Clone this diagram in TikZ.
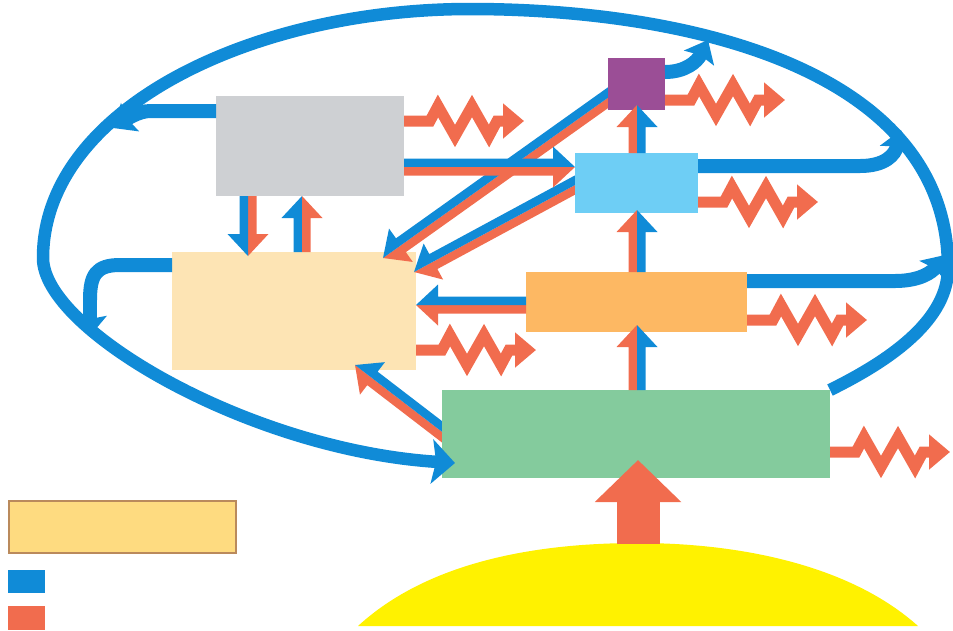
\documentclass[tikz,border=0pt]{standalone}
\usetikzlibrary{arrows.meta,calc,fit,backgrounds}

\definecolor{flowblue}{RGB}{16,139,215}
\definecolor{heatred}{RGB}{241,108,78}
\definecolor{greybox}{RGB}{206,208,211}
\definecolor{purplebox}{RGB}{155,78,150}
\definecolor{skybox}{RGB}{110,206,245}
\definecolor{beigebox}{RGB}{253,228,180}
\definecolor{orangebox}{RGB}{253,184,99}
\definecolor{greenbox}{RGB}{132,203,157}
\definecolor{legendfill}{RGB}{254,219,128}
\definecolor{legendline}{RGB}{186,138,92}
\definecolor{sunyellow}{RGB}{255,242,0}

\tikzset{
  box/.style={rectangle, inner sep=0pt, outer sep=0pt},
  blueflow/.style={draw=flowblue, line width=0.28cm,
    -{Stealth[length=0.4cm,width=0.66cm,inset=0.06cm]}},
  cycleflow/.style={draw=flowblue, line width=0.25cm,
    -{Stealth[length=0.46cm,width=0.88cm,inset=0.08cm]}},
  heatflow/.style={draw=heatred, line width=0.22cm, line join=miter,
    -{Triangle[length=0.42cm,width=0.68cm]}},
}

% heat loss: zigzag arrow starting at #1
\newcommand{\heatloss}[1]{%
  \draw[heatflow] (#1) -- ++(26,0) -- ++(8,-15) -- ++(17,30) -- ++(17,-30)
    -- ++(17,30) -- ++(8,-15) -- ++(27,0);}

% twin arrow from #1 to #2: colour #3 on its left side, colour #4 on its right side
\newcommand{\twinarrow}[4]{%
  \coordinate (tw-a) at (#1);
  \coordinate (tw-b) at (#2);
  \coordinate (tw-c) at ($(tw-b)!0.44cm!(tw-a)$);
  \fill[#3] (tw-a) -- ($(tw-a)!0.17cm!90:(tw-b)$) -- ($(tw-c)!0.17cm!90:(tw-b)$)
    -- ($(tw-c)!0.41cm!90:(tw-b)$) -- (tw-b) -- cycle;
  \fill[#4] (tw-a) -- ($(tw-a)!0.17cm!-90:(tw-b)$) -- ($(tw-c)!0.17cm!-90:(tw-b)$)
    -- ($(tw-c)!0.41cm!-90:(tw-b)$) -- (tw-b) -- cycle;}

\begin{document}
\begin{tikzpicture}[x=0.02cm, y=-0.02cm]

  % Fix the page size
  \useasboundingbox (0,0) rectangle (953,630);

  % Decomposers sit below the arrows that come into them
  \begin{scope}[on background layer]
    \node[box, fill=beigebox, fit={(172,252)(416,370)}] (decomposers) {};
  \end{scope}

  % The other compartments
  \node[box, fill=greybox, fit={(216,96)(404,196)}] (detritus) {};
  \node[box, fill=purplebox, fit={(608,58)(665,110)}] (tertiary) {};
  \node[box, fill=skybox, fit={(575,153)(698,213)}] (secondary) {};
  \node[box, fill=orangebox, fit={(526,272)(747,332)}] (primary) {};
  \node[box, fill=greenbox, fit={(442,390)(830,478)}] (producers) {};

  % Diagonal twin arrows into the decomposers (under their source boxes)
  \begin{scope}[on background layer]
    \twinarrow{$(tertiary.south west)+(15,-23)$}{$(decomposers.north east)+(-33,6)$}{heatred}{flowblue}
    \twinarrow{$(secondary.south west)+(13,-35)$}{$(decomposers.north east)+(-2,20)$}{heatred}{flowblue}
    \twinarrow{$(producers.north west)+(12,51)$}{$(decomposers.south east)+(-61,-5)$}{heatred}{flowblue}
  \end{scope}

  % The big recycling loop back to the producers
  \draw[cycleflow] (producers.north east) .. controls (895,358) and (948,318) .. (948,268)
    .. controls (948,70) and (690,9) .. (470,9)
    .. controls (250,9) and (43,110) .. (43,258)
    .. controls (43,330) and (250,450) .. ($(producers.west |- 0,463)+(13,0)$);

  % The sun and its energy input
  \fill[sunyellow] (358,626) .. controls (430,560) and (540,543) .. (638,543)
    .. controls (740,543) and (850,565) .. (918,626) -- cycle;
  \coordinate (sun) at (638,544);
  \draw[heatred, line width=0.86cm, -{Triangle[length=0.84cm,width=1.68cm]}]
    (sun) -- ($(producers.south -| 638,0)+(0,-18)$);

  % Twin arrows between the compartments
  \twinarrow{detritus.south -| 248,0}{$(decomposers.north -| 248,0)+(0,4)$}{heatred}{flowblue}
  \twinarrow{decomposers.north -| 302,0}{detritus.south -| 302,0}{flowblue}{heatred}
  \twinarrow{detritus.east |- 0,167}{secondary.west |- 0,167}{flowblue}{heatred}
  \twinarrow{primary.west |- 0,305}{decomposers.east |- 0,305}{heatred}{flowblue}
  \twinarrow{producers.north -| 637,0}{$(primary.south -| 637,0)+(0,-7)$}{heatred}{flowblue}
  \twinarrow{primary.north -| 637,0}{$(secondary.south -| 637,0)+(0,-3)$}{heatred}{flowblue}
  \twinarrow{secondary.north -| 637,0}{$(tertiary.south -| 637,0)+(0,-5)$}{heatred}{flowblue}

  % Heat lost by every compartment
  \heatloss{detritus.east |- 0,121}
  \heatloss{tertiary.east |- 0,100}
  \heatloss{secondary.east |- 0,202}
  \heatloss{primary.east |- 0,320}
  \heatloss{decomposers.east |- 0,350}
  \heatloss{producers.east |- 0,452}

  % Matter going out to the loop
  \coordinate (detritus-out) at (113,128);
  \coordinate (decomposers-out) at (90,336);
  \coordinate (tertiary-out) at (708,40);
  \coordinate (secondary-out) at (901,130);
  \coordinate (primary-out) at (945,255);
  \draw[blueflow] (detritus.west |- 0,111) -- (150,111)
    .. controls (138,111) and (124,121) .. (detritus-out);
  \draw[blueflow] (decomposers.west |- 0,265) -- (120,265)
    .. controls (96,265) and (90,275) .. (90,300) -- (decomposers-out);
  \draw[blueflow] (tertiary.east |- 0,72) .. controls (685,72) and (697,62) .. (tertiary-out);
  \draw[blueflow] (secondary.east |- 0,166) -- (860,166)
    .. controls (885,166) and (895,155) .. (secondary-out);
  \draw[blueflow] (primary.east |- 0,281) -- (895,281)
    .. controls (920,281) and (932,272) .. (primary-out);

  % Legend
  \node[box, fill=legendfill, draw=legendline, line width=1.2pt, fit={(9,501)(236,553)}] (legend) {};
  \node[box, fill=flowblue, fit={(8,570)(45,593)}] (matterkey) {};
  \node[box, fill=heatred, fit={(8,606)(45,630)}] (energykey) {};

\end{tikzpicture}
\end{document}
